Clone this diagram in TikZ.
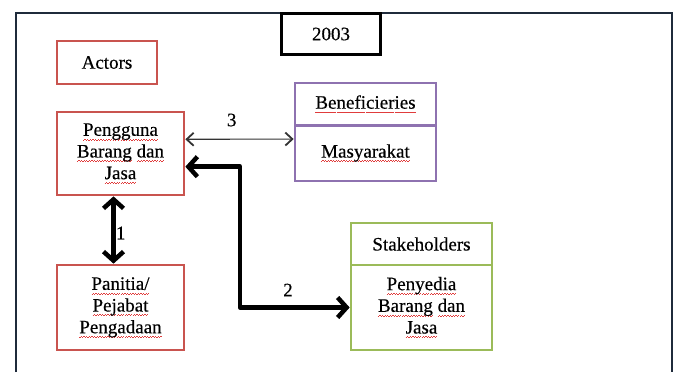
\documentclass[tikz,border=0pt]{standalone}
\usepackage{fontspec}
\setmainfont{Liberation Serif}[FakeBold=0.35]
\usetikzlibrary{arrows.meta}
\definecolor{spellred}{HTML}{E03C3C}
\definecolor{actorred}{HTML}{C9544F}
\definecolor{benefpurple}{HTML}{8E72B0}
\definecolor{stakegreen}{HTML}{9BBB59}
\definecolor{framenavy}{HTML}{1F2B3B}
% wavy red underline, as a spell checker marks a word
\newcommand\wavepiece{\hbox{\rule{1.3pt}{0.7pt}\rule[0.9pt]{1.3pt}{0.7pt}}}
\newsavebox\spellword
\newcommand\spellmark[1]{%
  \sbox\spellword{#1}%
  \rlap{\color{spellred}\lower4.5pt\hbox to\wd\spellword{\xleaders\wavepiece\hfill}}%
  \usebox\spellword}
\begin{document}
\begin{tikzpicture}[x=1pt,y=-1pt,
  font=\fontsize{19}{21.7}\selectfont,
  frameline/.style={draw=framenavy, line width=2pt},
  box/.style={draw, line width=2.7pt, fill=white, align=center, inner sep=0pt, anchor=center},
  actorbox/.style={box, draw=actorred},
  benefbox/.style={box, draw=benefpurple, minimum width=141pt},
  stakebox/.style={box, draw=stakegreen, minimum width=141pt},
  thickarrow/.style={line width=4.5pt, draw=black, line join=round,
    {Straight Barb[length=9pt,width=20pt]}-{Straight Barb[length=9pt,width=20pt]}},
  thinarrow/.style={line width=1.1pt, draw=black!80,
    {Straight Barb[length=7pt,width=13pt,line width=1.8pt]}-{Straight Barb[length=7pt,width=13pt,line width=1.8pt]}},
  lbl/.style={inner sep=1pt}]
\useasboundingbox (0,0) rectangle (676,372);

% outer frame, open at the bottom
\draw[frameline] (16,372) -- (16,13) -- (672,13) -- (672,372);

% year tab
\node[box, draw=black, minimum width=99pt, minimum height=41pt] (year) at (331,34) {2003};

% actors
\node[actorbox, minimum width=100pt, minimum height=43pt] (actors) at (107,62.5) {Actors};
\node[actorbox, minimum width=127pt, minimum height=83pt] (pengguna) at (120.5,153.5)
  {\spellmark{Pengguna}\\\spellmark{Barang} \spellmark{dan}\\\spellmark{Jasa}};
\node[actorbox, minimum width=127pt, minimum height=85pt] (panitia) at (120.5,307.5)
  {\spellmark{Panitia/}\\\spellmark{Pejabat}\\\spellmark{Pengadaan}};

% beneficiaries
\node[benefbox, minimum height=42.5pt] (beneftop) at (365.5,104.25) {\spellmark{Beneficieries}};
\node[benefbox, minimum height=55.5pt] (benefbot) at (365.5,153.25) {\spellmark{Masyarakat}};

% stakeholders
\node[stakebox, minimum height=42pt] (staketop) at (421.5,244) {Stakeholders};
\node[stakebox, minimum height=85pt] (stakebot) at (421.5,307.5)
  {\spellmark{Penyedia}\\\spellmark{Barang} \spellmark{dan}\\\spellmark{Jasa}};

% relations
\coordinate (bend) at (240,307.5);
\draw[thinarrow] ([yshift=14.2pt]pengguna.east) -- ([yshift=14.2pt]benefbot.west);
\draw[thickarrow] ([xshift=-7pt]pengguna.south) -- ([xshift=-7pt]panitia.north);
\draw[thickarrow] ([yshift=-13.2pt]pengguna.east) -| (bend) -- (stakebot.west);

\node[lbl] (n3) at (231.7,120) {3};
\node[lbl] (n1) at (120.7,233) {1};
\node[lbl] (n2) at (288,290) {2};
\end{tikzpicture}
\end{document}
